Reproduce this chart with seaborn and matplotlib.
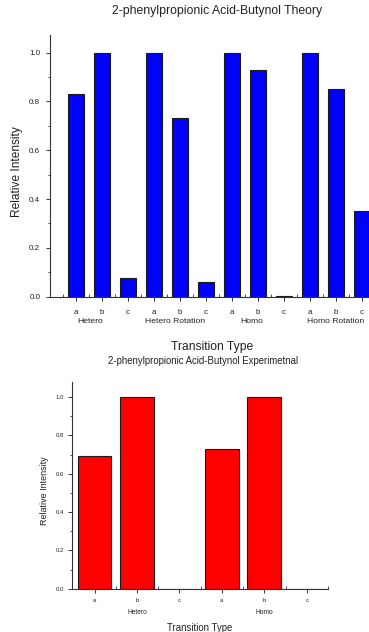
import matplotlib
matplotlib.use("Agg")
import matplotlib.pyplot as plt
import matplotlib.transforms as mtransforms
from matplotlib.ticker import MultipleLocator
import pandas as pd
import seaborn as sns

# ---- data ----
transitions = ["a", "b", "c"]
theory_groups = ["Hetero", "Hetero Rotation", "Homo", "Homo Rotation"]
theory_values = [0.83, 1.00, 0.078,
                 1.00, 0.73, 0.06,
                 1.00, 0.93, 0.003,
                 1.00, 0.85, 0.35]
exp_groups = ["Hetero", "Homo"]
exp_values = [0.69, 1.00, 0.0,
              0.73, 1.00, 0.0]

theory_title = "2-phenylpropionic Acid-Butynol Theory"
exp_title = "2-phenylpropionic Acid-Butynol Experimetnal"
x_title = "Transition Type"
y_title = "Relative Intensity"

sns.set_theme(style="white")
plt.rcParams["font.family"] = ["Liberation Sans", "DejaVu Sans"]

TEXT = "#222222"
AXIS = "#333333"


def frame(groups, values):
    keys = [f"{g}|{t}" for g in groups for t in transitions]
    return pd.DataFrame({"key": keys, "value": values}), keys


def style_axis(ax, ytop, tick_fs, pad_x, pad_y):
    sns.despine(ax=ax)
    for s in ("left", "bottom"):
        ax.spines[s].set_color(AXIS)
        ax.spines[s].set_linewidth(0.8)
    ax.set_ylim(0, ytop)
    ax.yaxis.set_major_locator(MultipleLocator(0.2))
    ax.yaxis.set_minor_locator(MultipleLocator(0.1))
    ax.tick_params(axis="y", which="major", direction="out", length=3,
                   width=0.7, color=AXIS, labelsize=tick_fs,
                   labelcolor=TEXT, pad=pad_y, left=True)
    ax.tick_params(axis="y", which="minor", direction="out", length=1.8,
                   width=0.6, color=AXIS, left=True)
    ax.tick_params(axis="x", which="major", direction="out", length=3,
                   width=0.7, color=AXIS, labelsize=tick_fs,
                   labelcolor=TEXT, pad=pad_x, bottom=True)
    ax.tick_params(axis="x", which="minor", direction="in", length=2,
                   width=0.6, color=AXIS, bottom=True)
    ax.set_yticks([0.0, 0.2, 0.4, 0.6, 0.8, 1.0])
    ax.set_yticklabels(["0.0", "0.2", "0.4", "0.6", "0.8", "1.0"])
    ax.set_ylim(0, ytop)
    ax.grid(False)


fig = plt.figure(figsize=(3.69, 6.32), dpi=100)
W, H = 369.0, 632.0

# ---- theory panel ----
ax1 = fig.add_axes([50 / W, 1 - 296.7 / H, (388 - 50) / W, (296.7 - 35) / H])
df1, keys1 = frame(theory_groups, theory_values)
sns.barplot(data=df1, x="key", y="value", order=keys1, color="#0000ff",
            saturation=1, width=0.6, edgecolor="#1a1a1a", linewidth=0.8,
            ax=ax1)
ax1.set_xticks(range(len(keys1)))
ax1.set_xticklabels(transitions * len(theory_groups))
ax1.set_xticks([i - 0.5 for i in range(len(keys1) + 1)], minor=True)
ax1.set_xlim(-1, 12)
style_axis(ax1, 1.072, 5.8, 6, 4)
ax1.set_xlabel(x_title, fontsize=8.7, color=TEXT)
ax1.xaxis.label.set_va("center")
ax1.xaxis.set_label_coords(0.479, -0.192)
ax1.set_ylabel(y_title, fontsize=8.6, color=TEXT)
ax1.yaxis.label.set_va("center")
ax1.yaxis.set_label_coords(-0.098, 0.48)
ax1.set_title(theory_title, fontsize=8.8, color=TEXT, x=0.495, y=1.058,
              va="center")
trans1 = mtransforms.blended_transform_factory(ax1.transData, ax1.transAxes)
offsets1 = [-0.46, -0.18, -0.25, -0.02]
for i, (g, off) in enumerate(zip(theory_groups, offsets1)):
    ax1.text(3 * i + 1 + off, -0.0956, g, transform=trans1, ha="center",
             va="center", fontsize=6.1, color=TEXT)

# ---- experimental panel ----
ax2 = fig.add_axes([72 / W, 1 - 588.7 / H, (328 - 72) / W, (588.7 - 381.7) / H])
df2, keys2 = frame(exp_groups, exp_values)
sns.barplot(data=df2, x="key", y="value", order=keys2, color="#ff0000",
            saturation=1, width=0.8, edgecolor="#1a1a1a", linewidth=0.8,
            ax=ax2)
ax2.set_xticks(range(len(keys2)))
ax2.set_xticklabels(transitions * len(exp_groups))
ax2.set_xticks([i + 0.5 for i in range(len(keys2))], minor=True)
ax2.set_xlim(-0.53, 5.5)
style_axis(ax2, 1.08, 4.3, 3.6, 3)
ax2.set_xlabel(x_title, fontsize=6.9, color=TEXT)
ax2.xaxis.label.set_va("center")
ax2.xaxis.set_label_coords(0.5, -0.19)
ax2.set_ylabel(y_title, fontsize=6.5, color=TEXT)
ax2.yaxis.label.set_va("center")
ax2.yaxis.set_label_coords(-0.107, 0.472)
ax2.set_title(exp_title, fontsize=6.9, color=TEXT, x=0.512, y=1.061,
              va="center")
trans2 = mtransforms.blended_transform_factory(ax2.transData, ax2.transAxes)
for i, g in enumerate(exp_groups):
    ax2.text(3 * i + 1, -0.116, g, transform=trans2, ha="center",
             va="center", fontsize=4.8, color=TEXT)

fig.savefig("out.png", dpi=100)
